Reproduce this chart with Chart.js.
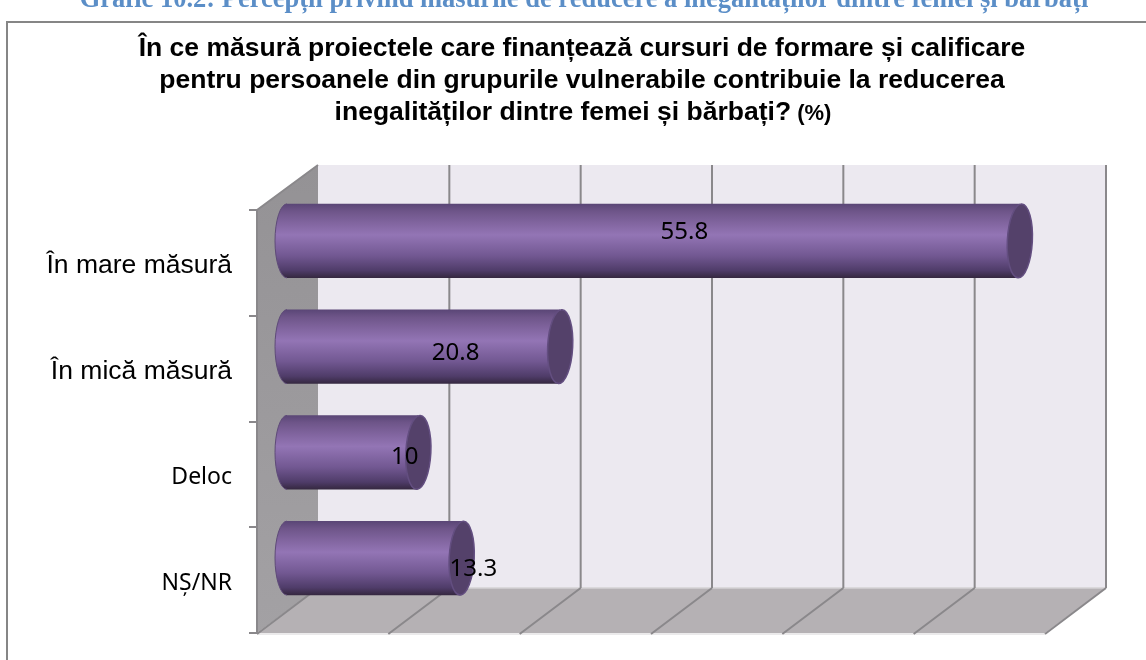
<!DOCTYPE html>
<html>
<head>
<meta charset="utf-8">
<style>
html, body { margin: 0; padding: 0; background: #fff; overflow: hidden; }
canvas { display: block; }
</style>
<script src="https://cdn.jsdelivr.net/npm/chart.js@4"></script>
</head>
<body>
<canvas id="myChart" width="1146" height="660"></canvas>
<script>
const categories = ['În mare măsură', 'În mică măsură', 'Deloc', 'NȘ/NR'];
const values = [55.8, 20.8, 10, 13.3];
const valueLabels = ['55.8', '20.8', '10', '13.3'];
const gridValues = [0, 10, 20, 30, 40, 50, 60];
const caption = 'Grafic 10.2: Percepții privind măsurile de reducere a inegalităților dintre femei și bărbați';
const titleLines = [
    'În ce măsură proiectele care finanțează cursuri de formare și calificare',
    'pentru persoanele din grupurile vulnerabile contribuie la reducerea',
    'inegalităților dintre femei și bărbați?'
];
const titleUnit = ' (%)';

// the floor and walls recede by this much, bars stand halfway in
const depthX = 61, depthY = -45;
const barShiftX = 30, barShiftY = -22;
// the labels were moved by hand in the original
const labelNudge = [[31, -9], [32, 7], [52, 5], [99, 11]];

const ctx = document.getElementById('myChart');

function barGradient(c, top, bottom) {
    var g = c.createLinearGradient(0, top, 0, bottom);
    g.addColorStop(0, '#5a4676');
    g.addColorStop(0.1, '#6e5589');
    g.addColorStop(0.25, '#80649e');
    g.addColorStop(0.42, '#9375b5');
    g.addColorStop(0.7, '#725892');
    g.addColorStop(0.9, '#4f3c69');
    g.addColorStop(1, '#352840');
    return g;
}

const roomPlugin = {
    id: 'room',
    beforeDatasetsDraw(chart) {
        var c = chart.ctx, a = chart.chartArea, x = chart.scales.x;
        c.save();
        // back wall
        c.fillStyle = '#ece9f0';
        c.fillRect(a.left + depthX, a.top + depthY, a.right - a.left, a.bottom - a.top);
        // left wall
        var wall = c.createLinearGradient(0, a.top + depthY, 0, a.bottom);
        wall.addColorStop(0, '#949295');
        wall.addColorStop(1, '#a3a1a4');
        c.fillStyle = wall;
        c.beginPath();
        c.moveTo(a.left, a.top);
        c.lineTo(a.left + depthX, a.top + depthY);
        c.lineTo(a.left + depthX, a.bottom + depthY);
        c.lineTo(a.left, a.bottom);
        c.closePath();
        c.fill();
        // floor
        c.fillStyle = '#b5b1b4';
        c.beginPath();
        c.moveTo(a.left, a.bottom);
        c.lineTo(a.left + depthX, a.bottom + depthY);
        c.lineTo(a.right + depthX, a.bottom + depthY);
        c.lineTo(a.right, a.bottom);
        c.closePath();
        c.fill();
        c.strokeStyle = '#d4d2d5';
        c.lineWidth = 1.5;
        c.beginPath();
        c.moveTo(a.left + depthX, a.bottom + depthY);
        c.lineTo(a.right + depthX, a.bottom + depthY);
        c.stroke();
        c.strokeStyle = '#e4e3e5';
        c.beginPath();
        c.moveTo(a.left, a.bottom + 1);
        c.lineTo(a.right, a.bottom + 1);
        c.stroke();
        // grid lines run up the back wall and along the floor
        c.strokeStyle = '#8a888b';
        c.lineWidth = 2;
        gridValues.forEach(function(v) {
            var px = x.getPixelForValue(v);
            c.beginPath();
            if (v > 0) {
                c.moveTo(px + depthX, a.top + depthY);
                c.lineTo(px + depthX, a.bottom + depthY);
            } else {
                c.moveTo(px, a.top);
                c.lineTo(px + depthX, a.top + depthY);
                c.moveTo(px, a.top);
                c.lineTo(px, a.bottom);
            }
            c.moveTo(px + depthX, a.bottom + depthY);
            c.lineTo(px, a.bottom + 1);
            c.stroke();
        });
        c.restore();
    },
    beforeDatasetDraw(chart) {
        var c = chart.ctx;
        c.save();
        c.translate(barShiftX, barShiftY);
        // rounded far end of each cylinder
        chart.getDatasetMeta(0).data.forEach(function(bar) {
            var h = bar.height / 2;
            c.fillStyle = barGradient(c, bar.y - h, bar.y + h);
            c.beginPath();
            c.ellipse(bar.base, bar.y, 12, h, 0, Math.PI / 2, Math.PI * 1.5);
            c.fill();
            c.strokeStyle = '#5e4a78';
            c.lineWidth = 1;
            c.stroke();
        });
    },
    afterDatasetDraw(chart) {
        var c = chart.ctx;
        // near end cap of each cylinder
        chart.getDatasetMeta(0).data.forEach(function(bar) {
            var h = bar.height / 2;
            c.fillStyle = '#54416a';
            c.strokeStyle = '#634e80';
            c.lineWidth = 1.5;
            c.beginPath();
            c.ellipse(bar.x, bar.y, 12.5, h, 0.05, 0, Math.PI * 2);
            c.fill();
            c.stroke();
        });
        c.restore();
    },
    afterDatasetsDraw(chart) {
        var c = chart.ctx;
        c.save();
        c.fillStyle = '#000';
        c.textAlign = 'center';
        c.textBaseline = 'middle';
        c.font = '24px "Noto Sans"';
        chart.getDatasetMeta(0).data.forEach(function(bar, i) {
            var mid = (bar.x + bar.base) / 2 + barShiftX;
            c.fillText(valueLabels[i], mid + labelNudge[i][0], bar.y + barShiftY + labelNudge[i][1]);
        });
        c.restore();
    },
    afterDraw(chart) {
        var c = chart.ctx;
        c.save();
        // frame of the embedded chart, it runs off the page
        c.strokeStyle = '#868686';
        c.lineWidth = 2;
        c.beginPath();
        c.moveTo(7, 660);
        c.lineTo(7, 22);
        c.lineTo(1146, 22);
        c.stroke();

        c.textBaseline = 'alphabetic';
        c.textAlign = 'center';
        c.fillStyle = '#5b8ec7';
        c.font = 'bold 26.5px "Liberation Serif"';
        c.fillText(caption, 584, 7);

        c.fillStyle = '#000';
        c.font = 'bold 26.5px "Liberation Sans"';
        c.fillText(titleLines[0], 582, 56);
        c.fillText(titleLines[1], 582, 88);
        // last line has the unit in a smaller size
        var w1 = c.measureText(titleLines[2]).width;
        c.font = 'bold 22px "Liberation Sans"';
        var w2 = c.measureText(titleUnit).width;
        c.textAlign = 'left';
        c.font = 'bold 26.5px "Liberation Sans"';
        c.fillText(titleLines[2], 583 - (w1 + w2) / 2, 120);
        c.font = 'bold 22px "Liberation Sans"';
        c.fillText(titleUnit, 583 - (w1 + w2) / 2 + w1, 120);
        c.restore();
    }
};

var graphData = {
    type: 'bar',
    data: {
        labels: categories,
        datasets: [{
            data: values,
            clip: false,
            barPercentage: 0.7,
            categoryPercentage: 1,
            borderWidth: 0,
            backgroundColor: function(context) {
                var y = context.chart.scales.y;
                var mid = y ? y.getPixelForValue(context.dataIndex) : NaN;
                var h = y ? (y.bottom - y.top) / categories.length * 0.7 / 2 : NaN;
                if (!isFinite(mid) || !isFinite(h)) return '#8064a2';
                return barGradient(context.chart.ctx, mid - h, mid + h);
            }
        }]
    },
    options: {
        indexAxis: 'y',
        responsive: false,
        animation: false,
        layout: { padding: { left: 0, top: 210, right: 101, bottom: 27 } },
        plugins: {
            legend: { display: false },
            tooltip: { enabled: false },
            title: { display: false }
        },
        scales: {
            x: {
                display: false,
                min: 0,
                max: 60
            },
            y: {
                afterFit: function(scale) {
                    scale.width = 257;
                    scale.paddingTop = 0;
                    scale.paddingBottom = 0;
                },
                border: { display: false },
                grid: {
                    drawOnChartArea: false,
                    drawTicks: true,
                    tickLength: 8,
                    lineWidth: 2,
                    tickColor: '#8a888b'
                },
                ticks: {
                    color: '#000',
                    padding: 17,
                    labelOffset: 3,
                    font: function(context) {
                        if (context.index < 2) return { family: '"Liberation Sans"', size: 26.5 };
                        return { family: '"Noto Sans"', size: 23 };
                    }
                }
            }
        }
    },
    plugins: [roomPlugin]
};

var myChart = new Chart(ctx, graphData);
</script>
</body>
</html>
